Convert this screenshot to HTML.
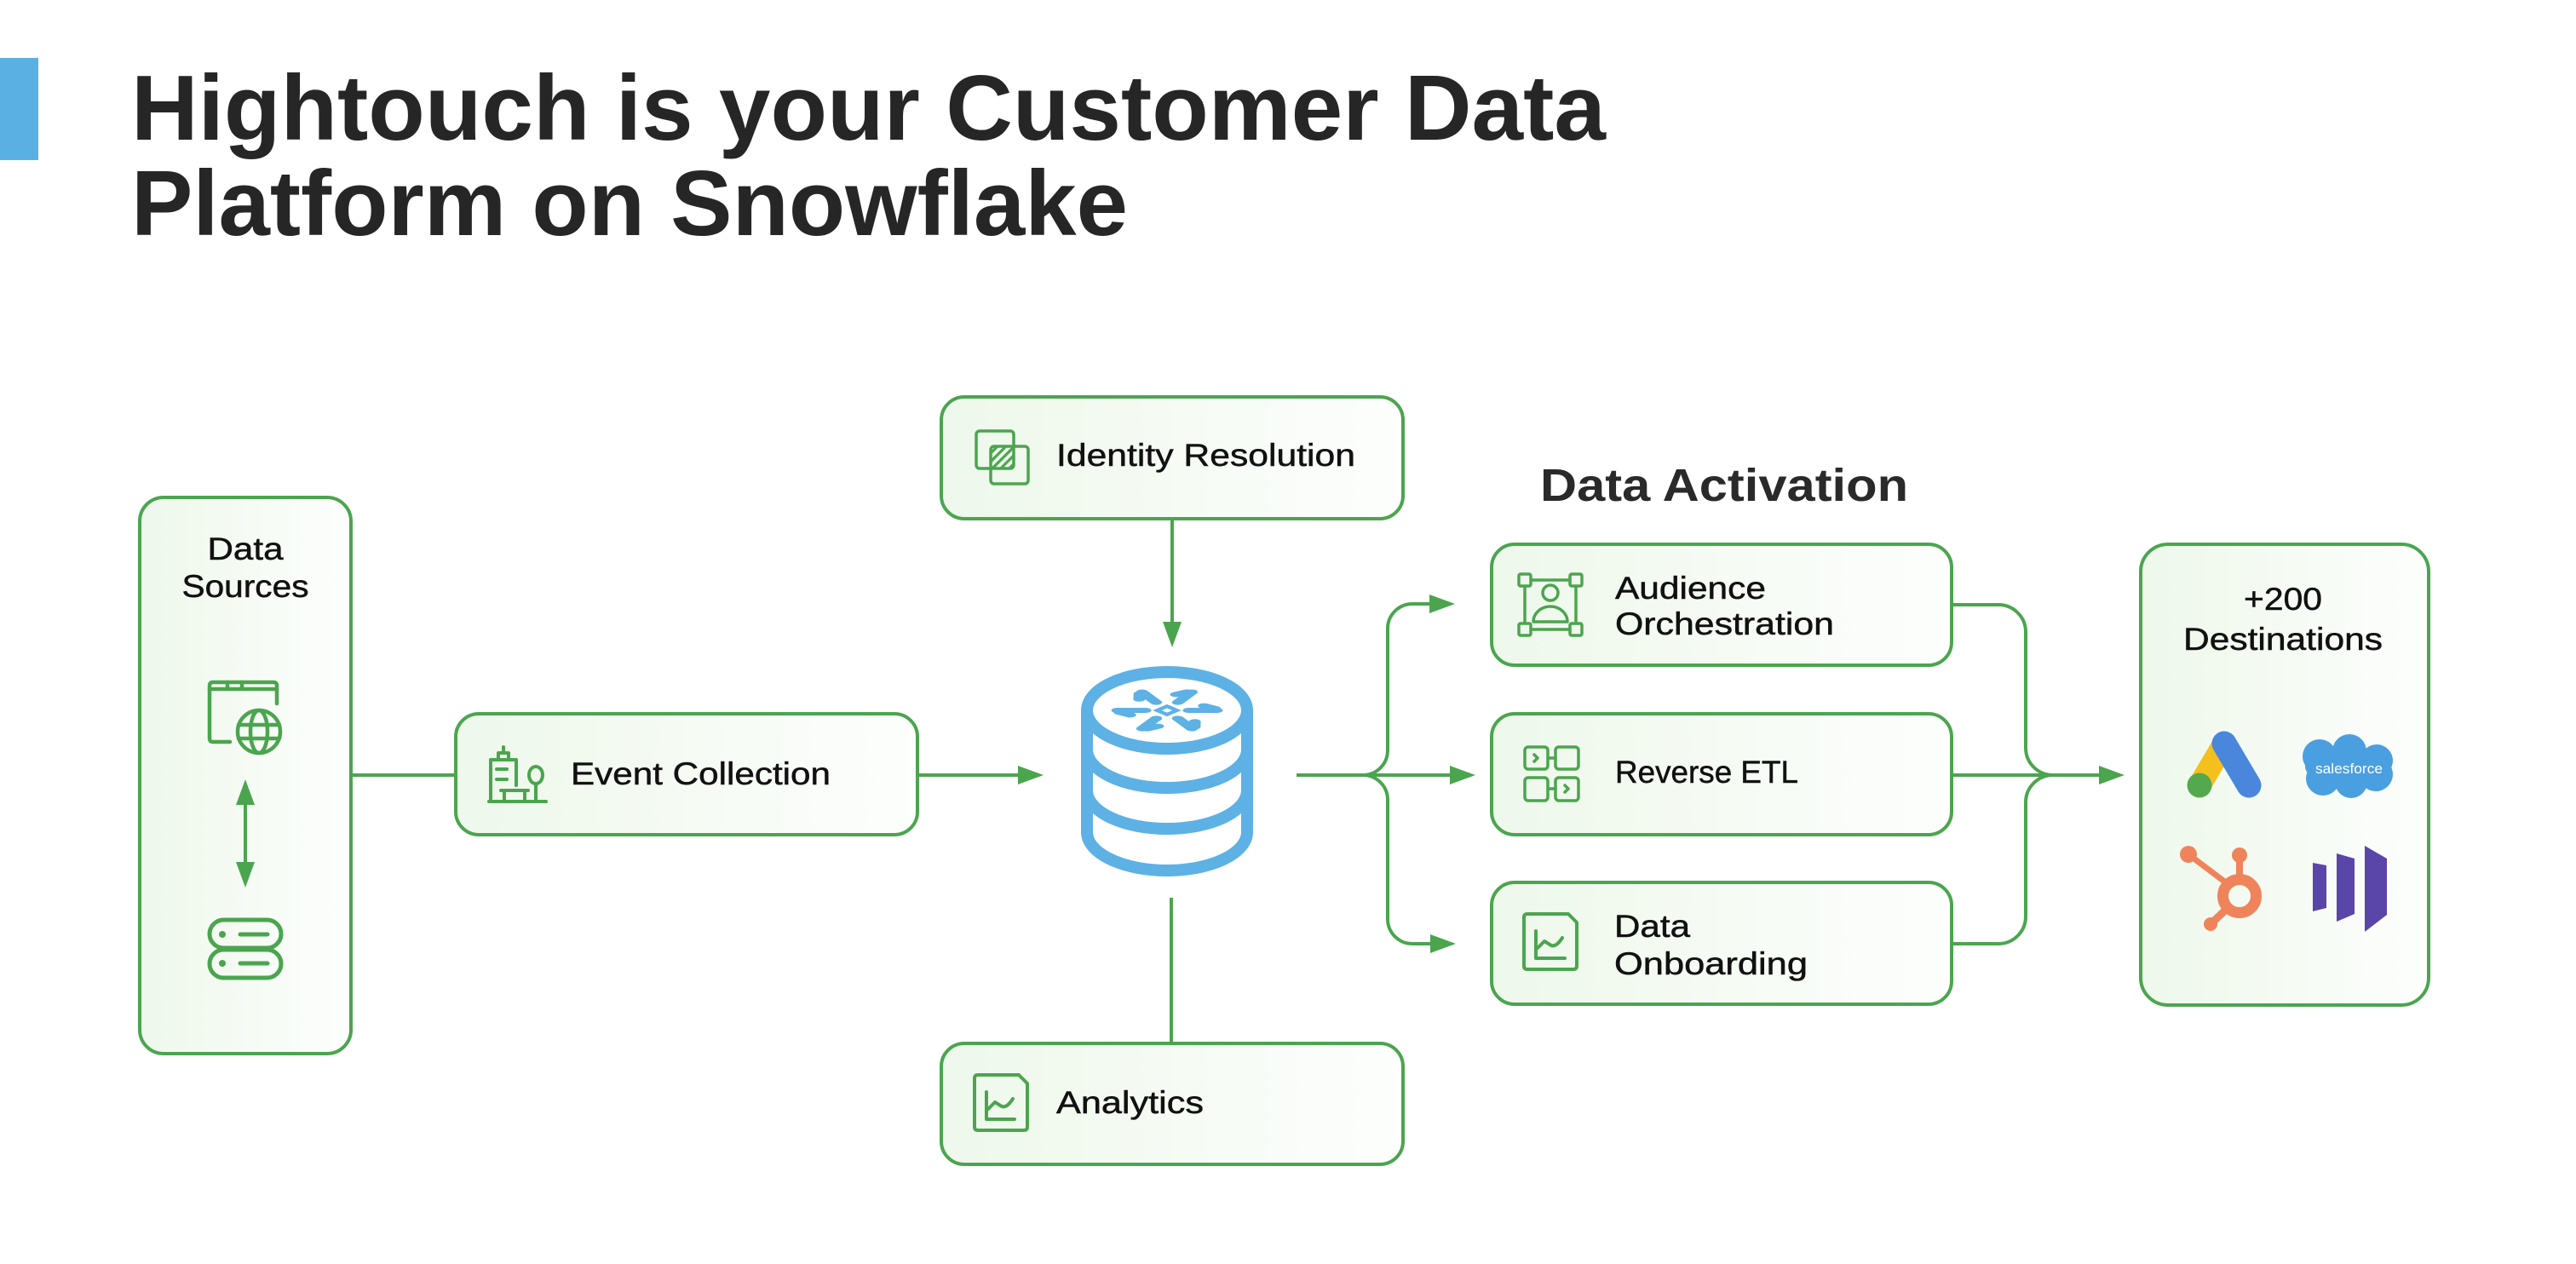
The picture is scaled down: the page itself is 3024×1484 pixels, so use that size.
<!DOCTYPE html>
<html>
<head>
<meta charset="utf-8">
<style>
  html, body { margin: 0; padding: 0; background: #ffffff; }
  svg { display: block; }
  .t { font-family: "Liberation Sans", sans-serif; font-size: 37px; fill: #111; stroke: #111; stroke-width: 0.5px; }
</style>
</head>
<body>
<svg width="3024" height="1484" viewBox="0 0 3024 1484" xmlns="http://www.w3.org/2000/svg">
  <defs>
    <linearGradient id="bg" x1="0" y1="0" x2="1" y2="0">
      <stop offset="0" stop-color="#eef8eb"/>
      <stop offset="1" stop-color="#fdfefd"/>
    </linearGradient>
    <pattern id="hatch" patternUnits="userSpaceOnUse" width="7" height="7" patternTransform="rotate(45)">
      <rect x="0" y="0" width="3.2" height="7" fill="#4ba54f"/>
    </pattern>
  </defs>

  <!-- Title -->
  <rect x="0" y="68" width="45" height="120" fill="#5ab0e2"/>
  <text x="154" y="164" font-family="Liberation Sans, sans-serif" font-weight="bold" font-size="109" fill="#262626" textLength="1731" lengthAdjust="spacingAndGlyphs">Hightouch is your Customer Data</text>
  <text x="154" y="276" font-family="Liberation Sans, sans-serif" font-weight="bold" font-size="109" fill="#262626" textLength="1170" lengthAdjust="spacingAndGlyphs">Platform on Snowflake</text>

  <!-- Data Activation heading -->
  <text x="1808" y="588" font-family="Liberation Sans, sans-serif" font-weight="bold" font-size="54" fill="#2a2a2a" textLength="432" lengthAdjust="spacingAndGlyphs">Data Activation</text>

  <g fill="url(#bg)" stroke="#4ba54f" stroke-width="4">
    <rect x="164" y="584" width="248" height="653" rx="28"/>
    <rect x="535" y="838" width="542" height="142" rx="27"/>
    <rect x="1105" y="466" width="542" height="143" rx="27"/>
    <rect x="1105" y="1225" width="542" height="142" rx="27"/>
    <rect x="1751" y="639" width="540" height="142" rx="27"/>
    <rect x="1751" y="838" width="540" height="142" rx="27"/>
    <rect x="1751" y="1036" width="540" height="143" rx="27"/>
    <rect x="2513" y="639" width="338" height="541" rx="32"/>
  </g>

  <!-- Connectors -->
  <g fill="none" stroke="#4ba54f" stroke-width="4">
    <path d="M412,910 H535"/>
    <path d="M1077,910 H1197"/>
    <path d="M1376,609 V732"/>
    <path d="M1375,1054 V1225"/>
    <path d="M1522,910 H1704"/>
    <path d="M1600,910 A29,29 0 0 0 1629,881 V738 A29,29 0 0 1 1658,709 H1680"/>
    <path d="M1600,910 A29,29 0 0 1 1629,939 V1079 A29,29 0 0 0 1658,1108 H1681"/>
    <path d="M2291,710 H2346 A32,32 0 0 1 2378,742 V878 A32,32 0 0 0 2410,910"/>
    <path d="M2291,1108 H2346 A32,32 0 0 0 2378,1076 V942 A32,32 0 0 1 2410,910"/>
    <path d="M2291,910 H2466"/>
    <path d="M288,940 V1015"/>
  </g>
  <g fill="#4ba54f">
    <polygon points="1195,899 1225,910 1195,921"/>
    <polygon points="1365,730 1376,760 1387,730"/>
    <polygon points="1678,698 1708,709 1678,720"/>
    <polygon points="1702,899 1732,910 1702,921"/>
    <polygon points="1679,1097 1709,1108 1679,1119"/>
    <polygon points="2464,899 2494,910 2464,921"/>
    <polygon points="277,945 288,915 299,945"/>
    <polygon points="277,1012 288,1042 299,1012"/>
  </g>

  <!-- Snowflake database -->
  <g fill="none" stroke="#5db1e4" stroke-width="14">
    <ellipse cx="1370" cy="834" rx="94" ry="45"/>
    <path d="M1276,834 V977 M1464,834 V977"/>
    <path d="M1276,880 A94,45 0 0 0 1464,880"/>
    <path d="M1276,928 A94,45 0 0 0 1464,928"/>
    <path d="M1276,977 A94,45 0 0 0 1464,977"/>
  </g>
  <g transform="translate(1370,834) scale(1.27,0.54)" fill="none" stroke="#5db1e4" stroke-width="11" stroke-linecap="round">
    <g><path d="M20,0 H46 M34,-10 L44,-4"/></g>
    <g transform="rotate(60)"><path d="M20,0 H46 M34,-10 L44,-4"/></g>
    <g transform="rotate(120)"><path d="M20,0 H46 M34,-10 L44,-4"/></g>
    <g transform="rotate(180)"><path d="M20,0 H46 M34,-10 L44,-4"/></g>
    <g transform="rotate(240)"><path d="M20,0 H46 M34,-10 L44,-4"/></g>
    <g transform="rotate(300)"><path d="M20,0 H46 M34,-10 L44,-4"/></g>
    <path d="M0,-9 L9,0 L0,9 L-9,0 Z" stroke-width="6"/>
  </g>

  <!-- Data Sources content -->
  <text class="t" x="243.5" y="657" textLength="89" lengthAdjust="spacingAndGlyphs">Data</text>
  <text class="t" x="213.5" y="701" textLength="149" lengthAdjust="spacingAndGlyphs">Sources</text>
  <g fill="none" stroke="#4ba54f" stroke-width="4.5" stroke-linecap="round" stroke-linejoin="round">
    <path d="M270,871 H250 Q246,871 246,867 V805 Q246,801 250,801 H321 Q325,801 325,805 V826"/>
    <path d="M246,809 H325 M267,801 V809 M284,801 V809"/>
    <circle cx="304" cy="859" r="25"/>
    <ellipse cx="304" cy="859" rx="10" ry="25"/>
    <path d="M280,851 H328 M280,867 H328"/>
  </g>
  <g fill="none" stroke="#4ba54f" stroke-width="5" stroke-linecap="round">
    <rect x="246" y="1080" width="84" height="33" rx="16.5"/>
    <rect x="246" y="1115" width="84" height="33" rx="16.5"/>
    <path d="M282,1097 H314 M282,1131 H314"/>
  </g>
  <circle cx="261" cy="1097" r="4" fill="#4ba54f"/>
  <circle cx="261" cy="1131" r="4" fill="#4ba54f"/>

  <!-- Event Collection -->
  <g fill="none" stroke="#4ba54f" stroke-width="4" stroke-linecap="round" stroke-linejoin="round">
    <path d="M576,941 V892 H606 V922"/>
    <rect x="585" y="884" width="12" height="8"/>
    <path d="M591,877 V884"/>
    <path d="M583,903 H595 M583,915 H595"/>
    <path d="M588,928 H620 M592,928 V941 M616,928 V941"/>
    <ellipse cx="629" cy="910" rx="8" ry="10"/>
    <path d="M629,920 V941"/>
    <path d="M574,941 H641"/>
  </g>
  <text class="t" x="670" y="921" textLength="305" lengthAdjust="spacingAndGlyphs">Event Collection</text>

  <!-- Identity Resolution -->
  <rect x="1163" y="524" width="27" height="26" fill="url(#hatch)"/>
  <g fill="none" stroke="#4ba54f" stroke-width="3.5">
    <rect x="1146" y="506" width="44" height="44" rx="4"/>
    <rect x="1163" y="524" width="44" height="44" rx="4"/>
  </g>
  <text class="t" x="1240" y="547" textLength="351" lengthAdjust="spacingAndGlyphs">Identity Resolution</text>

  <!-- Analytics -->
  <g fill="none" stroke="#4ba54f" stroke-width="4" stroke-linecap="round" stroke-linejoin="round">
    <path d="M1148,1262 H1196 L1206,1272 V1323 Q1206,1327 1202,1327 H1148 Q1144,1327 1144,1323 V1266 Q1144,1262 1148,1262 Z"/>
    <path d="M1158,1282 V1314 H1191"/>
    <path d="M1160,1302 L1168,1294 L1176,1299 Q1182,1301 1189,1290"/>
  </g>
  <text class="t" x="1240" y="1307" textLength="173" lengthAdjust="spacingAndGlyphs">Analytics</text>

  <!-- Audience Orchestration -->
  <g fill="none" stroke="#4ba54f" stroke-width="3.5" stroke-linejoin="round">
    <rect x="1783" y="674" width="14" height="14" rx="2"/>
    <rect x="1843" y="674" width="14" height="14" rx="2"/>
    <rect x="1783" y="732" width="14" height="14" rx="2"/>
    <rect x="1843" y="732" width="14" height="14" rx="2"/>
    <path d="M1797,681 H1843 M1797,739 H1843 M1790,688 V732 M1850,688 V732"/>
    <circle cx="1820" cy="696" r="9"/>
    <path d="M1800,730 A20,18 0 0 1 1840,730 Z"/>
  </g>
  <text class="t" x="1896" y="703" textLength="177" lengthAdjust="spacingAndGlyphs">Audience</text>
  <text class="t" x="1896" y="745" textLength="257" lengthAdjust="spacingAndGlyphs">Orchestration</text>

  <!-- Reverse ETL -->
  <g fill="none" stroke="#4ba54f" stroke-width="3.5" stroke-linecap="round" stroke-linejoin="round">
    <rect x="1790" y="877" width="27" height="26" rx="4"/>
    <rect x="1826" y="877" width="27" height="26" rx="4"/>
    <rect x="1790" y="913" width="27" height="27" rx="4"/>
    <rect x="1826" y="913" width="27" height="27" rx="4"/>
    <path d="M1817,890 H1826 M1817,926 H1826"/>
    <path d="M1801,886 L1805,890 L1801,894"/>
    <path d="M1837,922 L1841,926 L1837,930"/>
  </g>
  <text class="t" x="1896" y="919" textLength="215" lengthAdjust="spacingAndGlyphs">Reverse ETL</text>

  <!-- Data Onboarding -->
  <g fill="none" stroke="#4ba54f" stroke-width="4" stroke-linecap="round" stroke-linejoin="round">
    <path d="M1793,1073 H1841 L1851,1083 V1134 Q1851,1138 1847,1138 H1793 Q1789,1138 1789,1134 V1077 Q1789,1073 1793,1073 Z"/>
    <path d="M1803,1093 V1125 H1837"/>
    <path d="M1805,1113 L1813,1105 L1821,1110 Q1827,1112 1834,1101"/>
  </g>
  <text class="t" x="1895" y="1100" textLength="89" lengthAdjust="spacingAndGlyphs">Data</text>
  <text class="t" x="1895" y="1144" textLength="227" lengthAdjust="spacingAndGlyphs">Onboarding</text>

  <!-- Destinations -->
  <text class="t" x="2634" y="716" textLength="92" lengthAdjust="spacingAndGlyphs">+200</text>
  <text class="t" x="2563" y="763" textLength="234" lengthAdjust="spacingAndGlyphs">Destinations</text>

  <!-- Google Ads -->
  <line x1="2582" y1="922" x2="2611" y2="873" stroke="#f4c01e" stroke-width="27" stroke-linecap="round"/>
  <line x1="2611" y1="873" x2="2640" y2="922" stroke="#4a86db" stroke-width="29" stroke-linecap="round"/>
  <circle cx="2582" cy="922" r="14.5" fill="#54a94f"/>

  <!-- Salesforce -->
  <g fill="#4a9fe0">
    <ellipse cx="2756" cy="900" rx="50" ry="22"/>
    <circle cx="2723" cy="888" r="20"/>
    <circle cx="2758" cy="882" r="20"/>
    <circle cx="2790" cy="893" r="19"/>
    <circle cx="2727" cy="914" r="20"/>
    <circle cx="2760" cy="918" r="19"/>
    <circle cx="2789" cy="909" r="20"/>
  </g>
  <text x="2718" y="908" font-family="Liberation Sans, sans-serif" font-size="17" fill="#ffffff" textLength="79" lengthAdjust="spacingAndGlyphs">salesforce</text>

  <!-- HubSpot -->
  <g stroke="#ef845c" fill="none" stroke-linecap="round">
    <circle cx="2629" cy="1052" r="19.5" stroke-width="13"/>
    <line x1="2629" y1="1033" x2="2629" y2="1008" stroke-width="8"/>
    <line x1="2569" y1="1003" x2="2614" y2="1037" stroke-width="7"/>
    <line x1="2595" y1="1085" x2="2615" y2="1066" stroke-width="9"/>
  </g>
  <g fill="#ef845c">
    <circle cx="2629" cy="1004" r="9"/>
    <circle cx="2569" cy="1003" r="10"/>
    <circle cx="2595" cy="1085" r="8"/>
  </g>

  <!-- Marketo -->
  <g fill="#5a45a8">
    <polygon points="2715,1013 2731,1016 2731,1066 2715,1070"/>
    <polygon points="2743,1002 2764,1008 2764,1073 2743,1082"/>
    <polygon points="2776,993 2802,1008 2802,1074 2776,1094"/>
  </g>
</svg>
</body>
</html>
